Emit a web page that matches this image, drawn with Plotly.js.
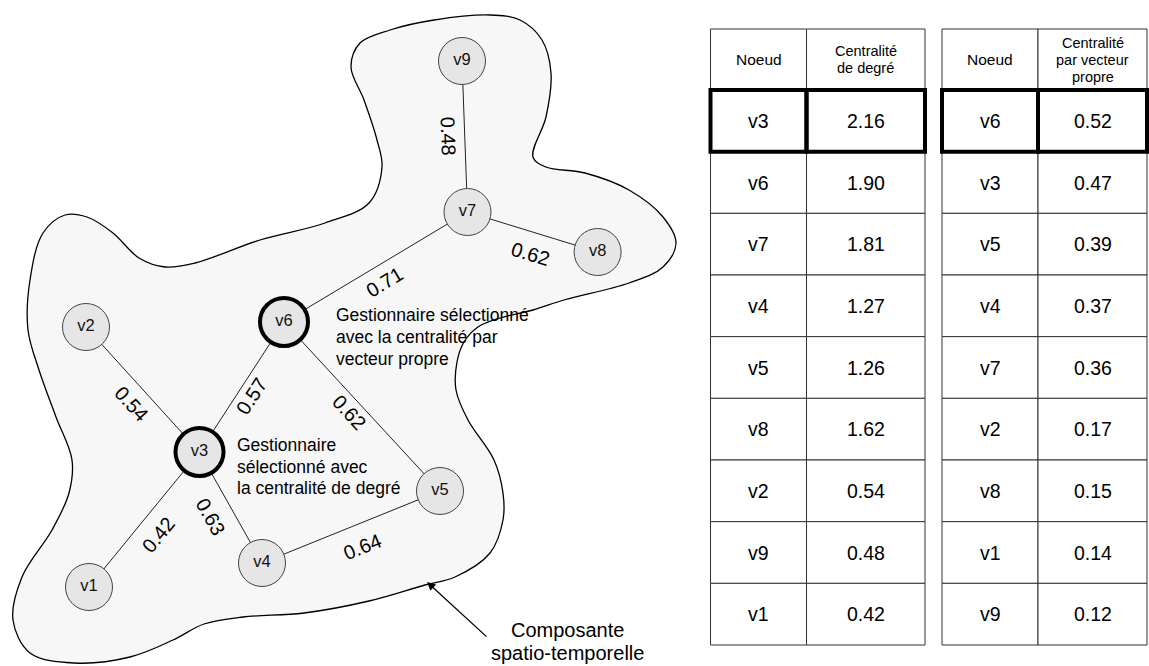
<!DOCTYPE html>
<html><head><meta charset="utf-8">
<script src="https://cdn.plot.ly/plotly-3.0.1.min.js"></script>
<style>html,body{margin:0;padding:0;background:#fff}#chart{width:1149px;height:666px}</style>
</head><body><div id="chart"></div>
<script>
// ---------------- data ----------------
const nodeNames = ['v1','v2','v3','v4','v5','v6','v7','v8','v9'];
const selectedNodes = ['v3','v6'];
const edgeFrom = ['v9','v7','v7','v2','v3','v6','v3','v3','v4'];
const edgeTo   = ['v7','v8','v6','v3','v6','v5','v1','v4','v5'];
const edgeWeights = [0.48,0.62,0.71,0.54,0.57,0.62,0.42,0.63,0.64];

const degreeNodes  = ['v3','v6','v7','v4','v5','v8','v2','v9','v1'];
const degreeValues = [2.16,1.90,1.81,1.27,1.26,1.62,0.54,0.48,0.42];
const eigenNodes   = ['v6','v3','v5','v4','v7','v2','v8','v1','v9'];
const eigenValues  = [0.52,0.47,0.39,0.37,0.36,0.17,0.15,0.14,0.12];

const headerDegree = ['Noeud','Centralité<br>de degré'];
const headerEigen  = ['Noeud','Centralité<br>par vecteur<br>propre'];
const noteEigen  = 'Gestionnaire sélectionné<br>avec la centralité par<br>vecteur propre';
const noteDegree = 'Gestionnaire<br>sélectionné avec<br>la centralité de degré';
const noteComponent = 'Composante<br>spatio-temporelle';

// ---------------- layout geometry (pixel space) ----------------
const nodePos = {v1:[89,587], v2:[86,327], v3:[199.5,452], v4:[262,563], v5:[440,491],
                 v6:[284,322], v7:[467.5,212], v8:[597.6,252], v9:[462,61]};
const labelShift = [[-16,0],[-2,22],[9,15],[-11,14.5],[10,9],[-13,5.5],[14,15.5],[-20,9.5],[11,20]];
const blobOutline = [[490,15],[520,20],[542,40],[551,73],[546,117],[533,157],[546,167],[585,173],
  [629,190],[663,217],[676,243],[663,267],[629,283],[564,300],[533,310],[500,318],[478,327],
  [464,342],[457,362],[456,390],[468,420],[494,460],[503,493],[503,520],[490,553],[455,577],
  [425,585],[369,601],[304,613],[243,617],[204,624],[173,640],[130,657],[74,663],[30,653],
  [13,620],[22,577],[52,530],[69,493],[72,460],[56,417],[39,370],[28,330],[30,280],[43,233],
  [65,215],[87,217],[113,233],[139,258],[165,267],[195,263],[260,240],[325,223],[369,203],
  [382,167],[377,140],[364,100],[351,67],[360,43],[390,30],[434,20],[490,15]];

const FONT = 'Liberation Sans, Arial, Helvetica, sans-serif';

// ---------------- traces ----------------
const traces = [];
traces.push({type:'scatter', mode:'lines', x: blobOutline.map(p=>p[0]), y: blobOutline.map(p=>p[1]),
  line:{shape:'spline', smoothing:1, color:'#000', width:1.3}, fill:'toself', fillcolor:'#f7f7f7',
  hoverinfo:'skip'});

const ex = [], ey = [];
edgeFrom.forEach((a,i)=>{ const b = edgeTo[i];
  ex.push(nodePos[a][0], nodePos[b][0], null); ey.push(nodePos[a][1], nodePos[b][1], null); });
traces.push({type:'scatter', mode:'lines', x:ex, y:ey, line:{color:'#222', width:1}, hoverinfo:'skip'});

traces.push({type:'scatter', mode:'markers+text', x: nodeNames.map(n=>nodePos[n][0]), y: nodeNames.map(n=>nodePos[n][1]),
  text: nodeNames, textposition:'middle center', textfont:{family:FONT, size:16.5, color:'#111'},
  marker:{size: nodeNames.map(n=>selectedNodes.includes(n)?48:47), color:'#e6e6e6', opacity:1,
    line:{color: nodeNames.map(n=>selectedNodes.includes(n)?'#000':'#444'),
          width: nodeNames.map(n=>selectedNodes.includes(n)?4:1)}},
  cliponaxis:false, hoverinfo:'skip'});

// ---------------- annotations ----------------
const annotations = [];
function lines(text, x, yc, gap, font, xanchor){
  const parts = text.split('<br>'); const n = parts.length;
  parts.forEach((t,i)=>annotations.push({x, y: yc + (i-(n-1)/2)*gap, xref:'x', yref:'y', text:t,
    showarrow:false, xanchor: xanchor||'center', yanchor:'middle', font}));
}

edgeWeights.forEach((w,i)=>{
  const a = nodePos[edgeFrom[i]], b = nodePos[edgeTo[i]];
  let ang = Math.atan2(b[1]-a[1], b[0]-a[0])*180/Math.PI;
  if (ang > 90) ang -= 180; if (ang < -90) ang += 180;
  annotations.push({x:(a[0]+b[0])/2 + labelShift[i][0], y:(a[1]+b[1])/2 + labelShift[i][1],
    xref:'x', yref:'y', text: w.toFixed(2), textangle: ang, showarrow:false,
    font:{family:FONT, size:20, color:'#000'}});
});

lines(noteEigen, 334, 337, 22, {family:FONT, size:17.5, color:'#000'}, 'left');
lines(noteDegree, 235, 466.5, 21.5, {family:FONT, size:17.5, color:'#000'}, 'left');
lines(noteComponent, 567, 641, 23, {family:FONT, size:20, color:'#000'}, 'center');
annotations.push({x:427, y:582, ax:488, ay:638, axref:'x', ayref:'y', xref:'x', yref:'y', text:'',
  showarrow:true, arrowhead:2, arrowsize:1.3, arrowwidth:1.3, arrowcolor:'#000'});

// ---------------- tables ----------------
const shapes = [];
const rowTop = 29, headerBottom = 90, rowH = (645-90)/9;
function table(xs, headers, nodes, vals){
  for (let c=0;c<2;c++){
    shapes.push({type:'rect', xref:'x', yref:'y', x0:xs[c], x1:xs[c+1], y0:rowTop, y1:headerBottom,
      line:{color:'#333', width:1}, fillcolor:'#fff', layer:'above'});
  }
  lines(headers[0], (xs[0]+xs[1])/2, (rowTop+headerBottom)/2, 17, {family:FONT, size:15.5, color:'#000'});
  lines(headers[1], (xs[1]+xs[2])/2, (rowTop+headerBottom)/2, 17, {family:FONT, size:14.5, color:'#000'});
  nodes.forEach((n,r)=>{
    const y0 = headerBottom + r*rowH, y1 = y0 + rowH;
    for (let c=0;c<2;c++){
      shapes.push({type:'rect', xref:'x', yref:'y', x0:xs[c], x1:xs[c+1], y0, y1,
        line:{color:'#333', width:1}, fillcolor:'#fff', layer:'above'});
    }
    annotations.push({x:(xs[0]+xs[1])/2, y:(y0+y1)/2, xref:'x', yref:'y', text:n, showarrow:false,
      font:{family:FONT, size:19.5, color:'#000'}});
    annotations.push({x:(xs[1]+xs[2])/2, y:(y0+y1)/2, xref:'x', yref:'y', text:vals[r].toFixed(2), showarrow:false,
      font:{family:FONT, size:19.5, color:'#000'}});
  });
  for (let c=0;c<2;c++){
    shapes.push({type:'rect', xref:'x', yref:'y', x0:xs[c], x1:xs[c+1], y0:headerBottom, y1:headerBottom+rowH,
      line:{color:'#000', width:4}, fillcolor:'rgba(0,0,0,0)', layer:'above'});
  }
}
table([710.5, 806.5, 925], headerDegree, degreeNodes, degreeValues);
table([942, 1038, 1147], headerEigen, eigenNodes, eigenValues);

const layout = {
  width:1149, height:666, margin:{l:0,r:0,t:0,b:0}, paper_bgcolor:'#fff', plot_bgcolor:'#fff',
  showlegend:false,
  xaxis:{range:[0,1149], visible:false, fixedrange:true},
  yaxis:{range:[666,0], visible:false, fixedrange:true},
  shapes, annotations, font:{family:FONT}
};
Plotly.newPlot('chart', traces, layout, {displayModeBar:false, staticPlot:true});
</script></body></html>
